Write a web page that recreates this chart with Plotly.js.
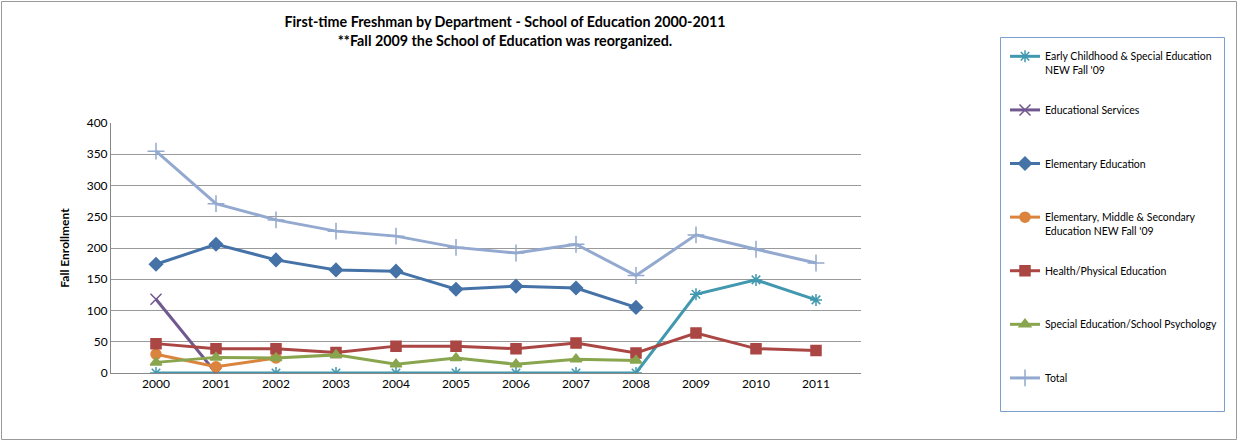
<!DOCTYPE html>
<html>
<head>
<meta charset="utf-8">
<script src="https://cdn.plot.ly/plotly-3.0.1.min.js"></script>
<style>html,body{margin:0;padding:0;background:#fff;}#chart{width:1240px;height:442px;}</style>
</head>
<body>
<div id="chart"></div>
<script>
const years = ['2000','2001','2002','2003','2004','2005','2006','2007','2008','2009','2010','2011'];
const earlyChildhood = [0,0,0,0,0,0,0,0,0,126,149,117];
const educationalServices = [118,0,null,null,null,null,null,null,null,null,null,null];
const elementaryEducation = [174,206,181,165,163,134,139,136,105,null,null,null];
const elemMiddleSecondary = [30,10,24,null,null,null,null,null,null,null,null,null];
const healthPhysical = [47,39,39,33,43,43,39,48,32,64,39,36];
const specialEdPsych = [17,25,24,29,14,24,14,22,20,null,null,null];
const total = [355,271,245,227,219,201,192,206,156,221,198,176];

const seriesNames = [
  "Early Childhood & Special Education<br>NEW Fall '09",
  "Educational Services<br>\u00a0",
  "Elementary Education<br>\u00a0",
  "Elementary, Middle & Secondary<br>Education NEW Fall '09",
  "Health/Physical Education<br>\u00a0",
  "Special Education/School Psychology<br>\u00a0",
  "Total<br>\u00a0"
];
const seriesData = [earlyChildhood, educationalServices, elementaryEducation, elemMiddleSecondary, healthPhysical, specialEdPsych, total];
const colors = ['#4198AF','#71588F','#4572A7','#DB843D','#AA4643','#89A54E','#93A9CF'];
const symbols = ['asterisk-open','x-thin-open','diamond','circle','square','triangle-up','cross-thin-open'];
const sizes = [10,11,10,10,10,10,12];

const FONT = 'Lato, "Open Sans", sans-serif';

const traces = seriesData.map((d,i)=>({
  type:'scatter', mode:'lines+markers', x:years, y:d, name:seriesNames[i],
  legendgroup:'g'+i,
  connectgaps:false,
  line:{color:colors[i], width:3},
  marker:{symbol:symbols[i], size:sizes[i], color:colors[i], line:{color:colors[i], width:1.5}}
}));

const L=111, R=861, T=123, B=373, W=1240, H=442;
const px = v => (v-L)/(R-L);
const py = v => (B-v)/(B-T);

const layout = {
  width:W, height:H,
  margin:{l:L, r:W-R, t:T, b:H-B, pad:0, autoexpand:false},
  paper_bgcolor:'#ffffff', plot_bgcolor:'#ffffff',
  font:{family:FONT, size:12, color:'#000'},
  title:{text:'<b>First-time Freshman by Department - School of Education 2000-2011</b><br><b>**Fall 2009 the School of Education was reorganized.</b>',
    font:{family:FONT, size:14.3, color:'#000'}, x:505/W, xref:'container', xanchor:'center', y:1-27/H, yref:'container', yanchor:'top'},
  showlegend:true,
  legend:{x:px(1005), xanchor:'left', yref:'container', y:1-43/H, yanchor:'top', valign:'top', maxheight:420,
    font:{family:FONT, size:10.5, color:'#000'}, bgcolor:'rgba(0,0,0,0)', borderwidth:0,
    tracegroupgap:23.3, itemwidth:30},
  xaxis:{type:'category', showgrid:false, zeroline:false, showline:true, linecolor:'#888', linewidth:1,
    ticks:'', tickfont:{family:FONT, size:12, color:'#000'}, fixedrange:true, automargin:false},
  yaxis:{range:[0,400], dtick:50, showgrid:true, gridcolor:'#9a9a9a', gridwidth:1, zeroline:false,
    showline:true, linecolor:'#888', linewidth:1, ticks:'', tickfont:{family:FONT, size:12, color:'#000'},
    ticklen:0, automargin:false, title:{text:'<b>Fall Enrollment</b>', font:{family:FONT, size:12, color:'#000'}, standoff:14}, fixedrange:true},
  shapes:[
    {type:'rect', xref:'paper', yref:'paper', x0:px(1000.5), x1:px(1224.5), y0:py(37.5), y1:py(411.5), line:{color:'#7ba0cd', width:1}},
    {type:'rect', xref:'paper', yref:'paper', x0:px(1.5), x1:px(1236.5), y0:py(1.5), y1:py(439.5), line:{color:'#9a9a9a', width:1}}
  ]
};

Plotly.newPlot('chart', traces, layout, {displayModeBar:false, staticPlot:true});
</script>
</body>
</html>
